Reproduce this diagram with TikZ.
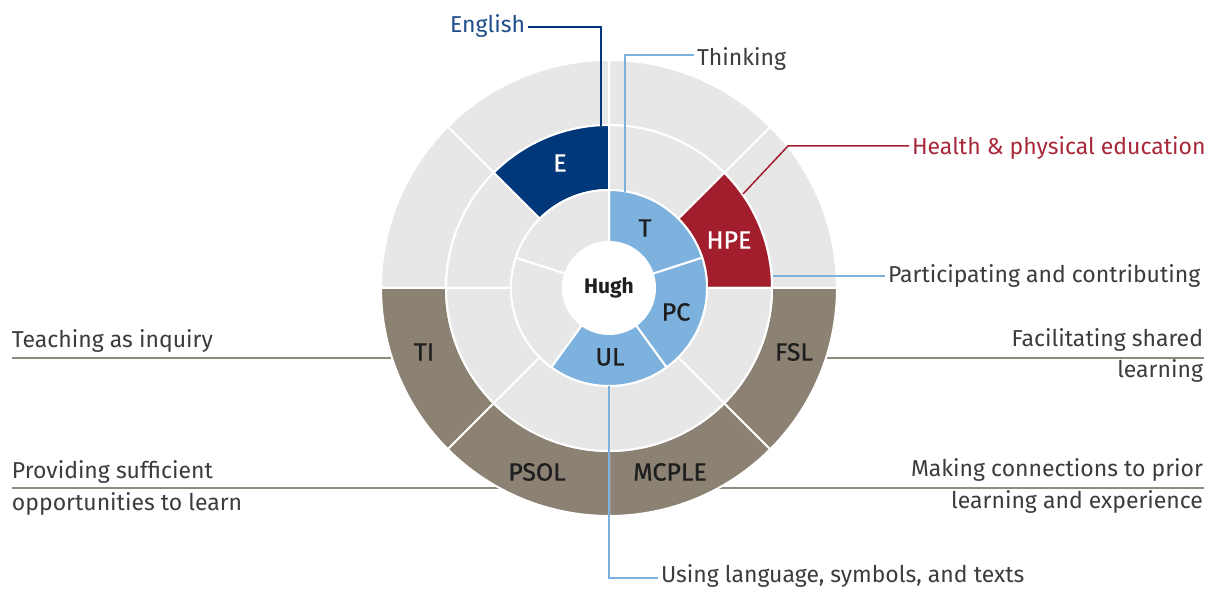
\documentclass[tikz,border=0pt]{standalone}
\usepackage{fontspec}
\setmainfont{Fira Sans}
\newfontfamily\segfont{Fira Sans}[FakeBold=0.8]
\definecolor{ringgray}{RGB}{231,231,231}
\definecolor{lblue}{RGB}{125,178,222}
\definecolor{dblue}{RGB}{0,56,122}
\definecolor{hred}{RGB}{162,30,45}
\definecolor{taupe}{RGB}{139,130,115}
\definecolor{txt}{RGB}{60,60,60}
\definecolor{engtxt}{RGB}{31,78,140}
\definecolor{redtxt}{RGB}{168,40,58}
\definecolor{taupeline}{RGB}{140,140,125}
\definecolor{segtxt}{RGB}{30,30,30}
\newcommand\seg[5]{%
  \filldraw[fill=#1, draw=white, line width=2pt] (#4:#2pt) arc[start angle=#4, end angle=#5, radius=#2pt] -- (#5:#3pt) arc[start angle=#5, end angle=#4, radius=#3pt] -- cycle;}
\tikzset{
  lab/.style={font=\fontsize{23}{27}\selectfont, text=txt, inner sep=0pt, outer sep=3pt},
  seglab/.style={font=\segfont\fontsize{25}{29}\selectfont, text=segtxt, inner sep=0pt},
  leader/.style={line width=1.5pt},
  bar/.style={taupeline, line width=2.5pt},
}
\begin{document}
\begin{tikzpicture}[x=1pt,y=1pt]
\useasboundingbox (0,0) rectangle (1208,593);
\fill[white] (0,0) rectangle (1208,593);

% bars (behind the wheel)
\coordinate (tiL) at (12,235);  \coordinate (tiR) at (400,235);
\coordinate (psL) at (12,105);  \coordinate (psR) at (505,105);
\coordinate (fsL) at (820,235); \coordinate (fsR) at (1204,235);
\coordinate (mcL) at (715,105); \coordinate (mcR) at (1204,105);
\draw[bar] (tiL) -- (tiR);
\draw[bar] (psL) -- (psR);
\draw[bar] (fsL) -- (fsR);
\draw[bar] (mcL) -- (mcR);

% wheel
\begin{scope}[shift={(609pt,305pt)}]
  % outer ring
  \seg{ringgray}{163}{228}{0}{45}
  \seg{ringgray}{163}{228}{45}{90}
  \seg{ringgray}{163}{228}{90}{135}
  \seg{ringgray}{163}{228}{135}{180}
  \seg{taupe}{163}{228}{180}{225}
  \seg{taupe}{163}{228}{225}{270}
  \seg{taupe}{163}{228}{270}{315}
  \seg{taupe}{163}{228}{315}{360}
  % middle ring
  \seg{hred}{98}{163}{0}{45}
  \seg{ringgray}{98}{163}{45}{90}
  \seg{dblue}{98}{163}{90}{135}
  \seg{ringgray}{98}{163}{135}{180}
  \seg{ringgray}{98}{163}{180}{225}
  \seg{ringgray}{98}{163}{225}{270}
  \seg{ringgray}{98}{163}{270}{315}
  \seg{ringgray}{98}{163}{315}{360}
  % inner ring
  \seg{lblue}{46}{98}{18}{90}
  \seg{ringgray}{46}{98}{90}{162}
  \seg{ringgray}{46}{98}{162}{234}
  \seg{lblue}{46}{98}{234}{306}
  \seg{lblue}{46}{98}{306}{378}
\end{scope}

% segment labels
\node[seglab, text=white] (E) at (560,430) {E};
\node[seglab, text=white] (HPE) at (729,353) {HPE};
\node[seglab] (T) at (645,365) {T};
\node[seglab] (PC) at (676,281) {PC};
\node[seglab] (UL) at (610,236) {UL};
\node[seglab, font=\bfseries\fontsize{21}{24}\selectfont] (hugh) at (609,305) {Hugh};
\node[seglab] (TI) at (424,241) {TI};
\node[seglab] (FSL) at (794,241) {FSL};
\node[seglab] (PSOL) at (537,121) {PSOL};
\node[seglab] (MCPLE) at (670,121) {MCPLE};

% side texts
\node[lab, anchor=base west] (tia) at (9,245) {Teaching as inquiry};
\node[lab, anchor=base west] (psa) at (9,114) {Providing sufficient};
\node[lab, anchor=base west] (psb) at (9,82) {opportunities to learn};
\node[lab, anchor=base east] (fsa) at (1206,246) {Facilitating shared};
\node[lab, anchor=base east] (fsb) at (1206,215) {learning};
\node[lab, anchor=base east] (mca) at (1206,116) {Making connections to prior};
\node[lab, anchor=base east] (mcb) at (1206,84) {learning and experience};
\node[lab, anchor=base west, text=redtxt] (hpel) at (909,438) {Health \& physical education};
\node[lab, anchor=base west] (pcl) at (885,310) {Participating and contributing};
\node[lab, anchor=base west] (thk) at (694,527) {Thinking};
\node[lab, anchor=base east, text=engtxt] (eng) at (528,560) {English};
\node[lab, anchor=base west] (ull) at (658,10) {Using language, symbols, and texts};

% leader heights
\coordinate (engH) at (0,566);
\coordinate (thkH) at (0,538);
\coordinate (hpeH) at (0,447);
\coordinate (pcH)  at (0,317);
\coordinate (ulH)  at (0,15);
% leaders
\coordinate (engE) at (601,467);
\draw[leader, dblue] (eng.east |- engH) -| (engE);
\coordinate (thT) at (625,401);
\draw[leader, lblue] (thk.west |- thkH) -| (thT);
\coordinate (hpeA) at (743,399);
\coordinate (hpeX) at (788,0);
\draw[leader, hred] (hpel.west |- hpeH) -- (hpeX |- hpeH) -- (hpeA);
\coordinate (pcA) at (773,317);
\draw[leader, lblue] (pcA) -- (pcl.west |- pcH);
\coordinate (ulA) at (609,207);
\draw[leader, lblue] (ulA) |- (ull.west |- ulH);
\end{tikzpicture}
\end{document}
